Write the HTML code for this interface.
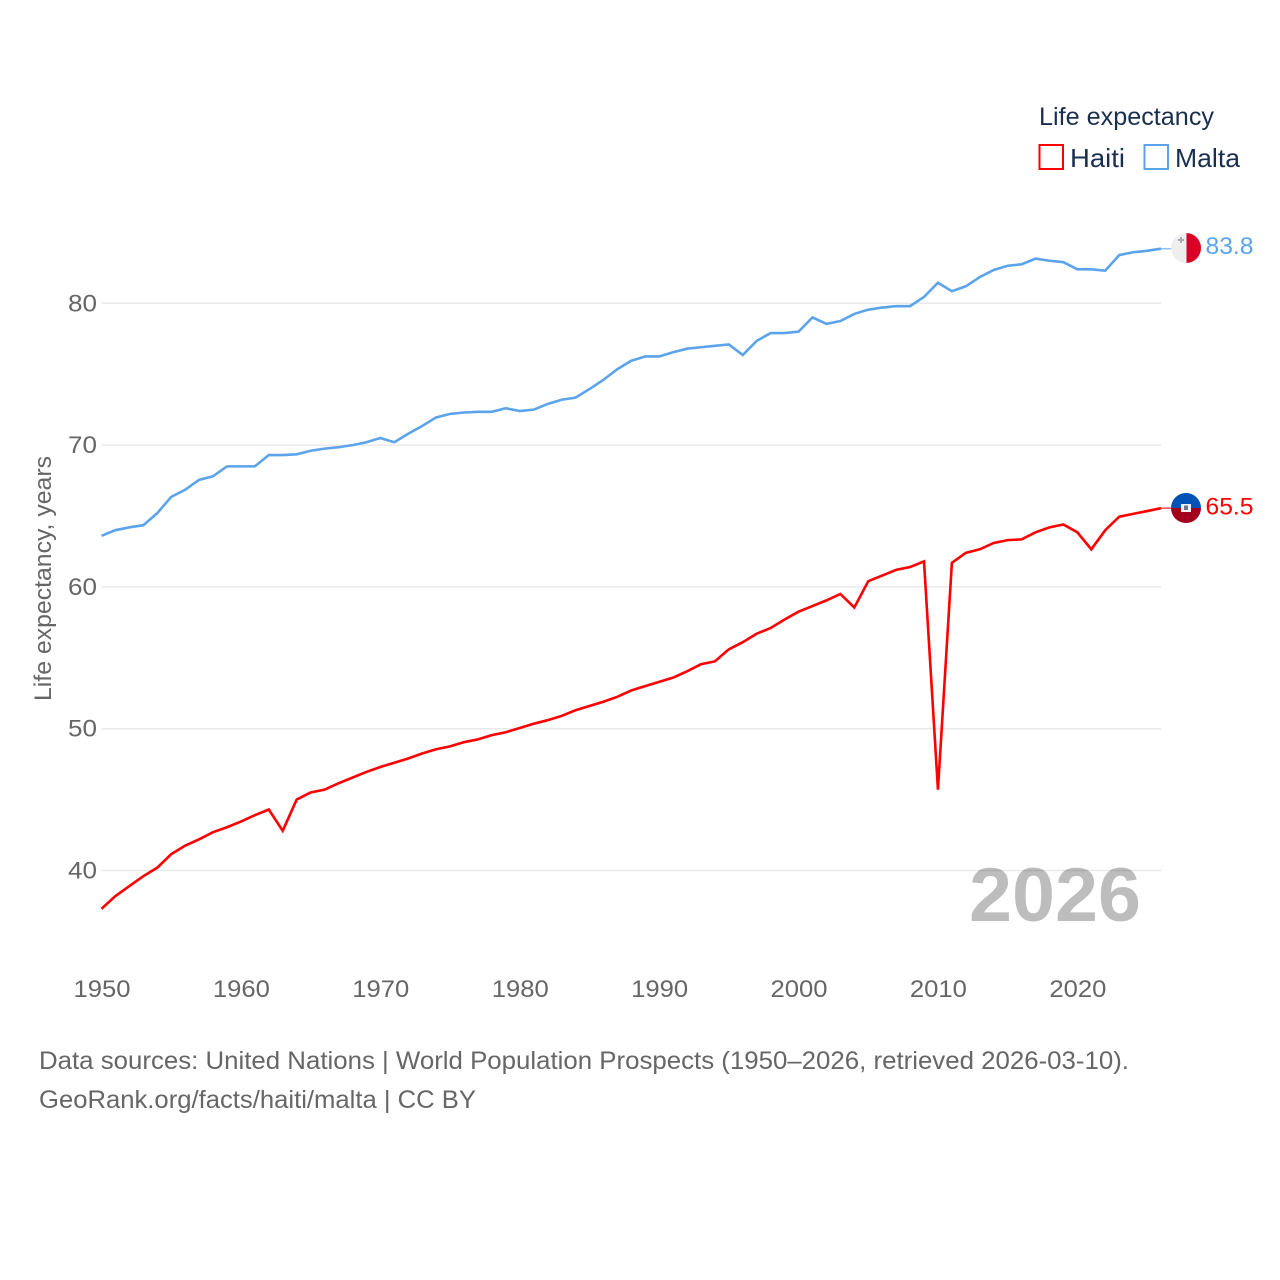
<!DOCTYPE html>
<html lang="en">
<head>
<meta charset="utf-8">
<title>Life expectancy: Haiti and Malta</title>
<style>
html,body{margin:0;padding:0;background:#fff;width:1280px;height:1280px;overflow:hidden}
svg{display:block}
text{font-family:"Liberation Sans",sans-serif}
</style>
</head>
<body>
<svg id="chart" xmlns="http://www.w3.org/2000/svg" width="1280" height="1280" viewBox="0 0 1280 1280">
  <defs>
    <clipPath id="flag-clip-malta"><circle cx="1186" cy="248" r="15"/></clipPath>
    <clipPath id="flag-clip-haiti"><circle cx="1186" cy="508" r="15"/></clipPath>
  </defs>
  <g id="grid"></g>
  <g id="y-ticks"></g>
  <g id="x-ticks"></g>
  <text transform="translate(51 701) rotate(-90)" font-size="24" fill="#666" textLength="245" lengthAdjust="spacingAndGlyphs">Life expectancy, years</text>
  <text x="969" y="921" font-size="76" font-weight="700" fill="#000" fill-opacity="0.26" textLength="172" lengthAdjust="spacingAndGlyphs">2026</text>
  <g id="series"></g>

  <g clip-path="url(#flag-clip-malta)">
    <rect x="1171" y="233" width="15.5" height="30" fill="#eeeeee"/>
    <rect x="1186.5" y="233" width="15" height="30" fill="#d80027"/>
    <rect x="1180" y="237" width="2" height="6" fill="#acabb1"/>
    <rect x="1178" y="239" width="6" height="2" fill="#acabb1"/>
  </g>
  <g clip-path="url(#flag-clip-haiti)">
    <rect x="1171" y="493" width="30" height="15" fill="#0052b4"/>
    <rect x="1171" y="508" width="30" height="15" fill="#a2001d"/>
    <rect x="1181" y="504" width="10" height="8" fill="#f0f0f0"/>
    <rect x="1184" y="505.5" width="4" height="4.5" fill="#6b7690"/>
  </g>

  <text id="label-malta" x="1205.5" y="254" font-size="24" fill="#5ba4ec" textLength="48" lengthAdjust="spacingAndGlyphs">83.8</text>
  <text id="label-haiti" x="1205.5" y="514.5" font-size="24" fill="#ff0000" textLength="48" lengthAdjust="spacingAndGlyphs">65.5</text>

  <g>
    <text x="1039" y="125" font-size="25" fill="#1a2f4f" textLength="175" lengthAdjust="spacingAndGlyphs">Life expectancy</text>
    <rect x="1039.5" y="145" width="23.5" height="24" fill="#fff" stroke="#ff0000" stroke-width="2"/>
    <text x="1070" y="167" font-size="26" fill="#1a2f4f" textLength="55" lengthAdjust="spacingAndGlyphs">Haiti</text>
    <rect x="1144.5" y="145" width="23.5" height="24" fill="#fff" stroke="#5ba4ec" stroke-width="2"/>
    <text x="1175" y="167" font-size="26" fill="#1a2f4f" textLength="65" lengthAdjust="spacingAndGlyphs">Malta</text>
  </g>

  <g>
    <text x="39" y="1069" font-size="25" fill="#666" textLength="1090" lengthAdjust="spacingAndGlyphs">Data sources: United Nations | World Population Prospects (1950–2026, retrieved 2026-03-10).</text>
    <text x="39" y="1108" font-size="25" fill="#666" textLength="437" lengthAdjust="spacingAndGlyphs">GeoRank.org/facts/haiti/malta | CC BY</text>
  </g>
</svg>
<script>
const startYear = 1950;
const endYear = 2026;
const yTickValues = [40, 50, 60, 70, 80];
const xTickYears = [1950, 1960, 1970, 1980, 1990, 2000, 2010, 2020];
const haitiValues = [
  37.3, 38.2, 38.9, 39.6, 40.2, 41.15, 41.75, 42.2, 42.7, 43.05,
  43.45, 43.9, 44.3, 42.8, 45.0, 45.5, 45.7, 46.15, 46.55, 46.95,
  47.3, 47.6, 47.9, 48.25, 48.55, 48.75, 49.05, 49.25, 49.55, 49.75,
  50.05, 50.35, 50.6, 50.9, 51.3, 51.6, 51.9, 52.25, 52.7, 53.0,
  53.3, 53.6, 54.05, 54.55, 54.75, 55.6, 56.1, 56.7, 57.1, 57.7,
  58.25, 58.65, 59.05, 59.5, 58.55, 60.4, 60.8, 61.2, 61.4, 61.8,
  45.7, 61.7, 62.4, 62.65, 63.1, 63.3, 63.35, 63.85, 64.2, 64.4,
  63.85, 62.65, 64.0, 64.95, 65.15, 65.35, 65.55
];
const maltaValues = [
  63.6, 64.0, 64.2, 64.35, 65.2, 66.35, 66.85, 67.55, 67.8, 68.5,
  68.5, 68.5, 69.3, 69.3, 69.35, 69.6, 69.75, 69.85, 70.0, 70.2,
  70.5, 70.2, 70.8, 71.35, 71.95, 72.2, 72.3, 72.35, 72.35, 72.6,
  72.4, 72.5, 72.9, 73.2, 73.35, 73.95, 74.6, 75.35, 75.95, 76.25,
  76.25, 76.55, 76.8, 76.9, 77.0, 77.1, 76.35, 77.35, 77.9, 77.9,
  78.0, 79.0, 78.55, 78.75, 79.25, 79.55, 79.7, 79.8, 79.8, 80.45,
  81.45, 80.85, 81.2, 81.85, 82.35, 82.65, 82.75, 83.15, 83.0, 82.9,
  82.4, 82.4, 82.3, 83.4, 83.6, 83.7, 83.85
];

const NS = 'http://www.w3.org/2000/svg';
const plotLeft = 101.5;
const plotRight = 1161;
const gridRight = 1161.5;
const y40 = 870.5;
const pxPerYear = 14.18;

function xScale(year) {
  return plotLeft + (year - startYear) * (plotRight - plotLeft) / (endYear - startYear);
}
function yScale(value) {
  return y40 - (value - 40) * pxPerYear;
}
function make(tag, attrs) {
  const el = document.createElementNS(NS, tag);
  for (const k in attrs) el.setAttribute(k, attrs[k]);
  return el;
}

const gridGroup = document.getElementById('grid');
const yTickGroup = document.getElementById('y-ticks');
yTickValues.forEach(function (v) {
  const line = make('line', {x1: plotLeft, x2: gridRight, y1: yScale(v), y2: yScale(v), stroke: '#e9e9e9', 'stroke-width': 1.5});
  
  
  gridGroup.appendChild(line);
  const label = make('text', {x: 97, y: yScale(v) + 8, 'font-size': 24, fill: '#666', 'text-anchor': 'end', textLength: 29, lengthAdjust: 'spacingAndGlyphs'});
  
  
  label.textContent = v;
  yTickGroup.appendChild(label);
});

const xTickGroup = document.getElementById('x-ticks');
xTickYears.forEach(function (year) {
  const label = make('text', {x: xScale(year) - 28, y: 997, 'font-size': 24, fill: '#666', textLength: 57, lengthAdjust: 'spacingAndGlyphs'});
  
  
  label.textContent = year;
  xTickGroup.appendChild(label);
});

const seriesGroup = document.getElementById('series');
function drawSeries(values, color, lineName, connectorName) {
  const pts = values.map(function (v, i) {
    return xScale(startYear + i).toFixed(2) + ',' + yScale(v).toFixed(2);
  }).join(' ');
  const line = make('polyline', {points: pts, fill: 'none', stroke: color, 'stroke-width': 2.6, 'stroke-linejoin': 'miter'});
  
  
  seriesGroup.appendChild(line);
  const lastY = yScale(values[values.length - 1]);
  const connector = make('line', {x1: plotRight, x2: 1172, y1: lastY, y2: lastY, stroke: color, 'stroke-width': 1.5, 'stroke-opacity': 0.7});
  
  
  seriesGroup.appendChild(connector);
}
drawSeries(maltaValues, '#5ba4ec', 'malta-line', 'malta-connector');
drawSeries(haitiValues, '#ff0000', 'haiti-line', 'haiti-connector');
</script>
</body>
</html>
